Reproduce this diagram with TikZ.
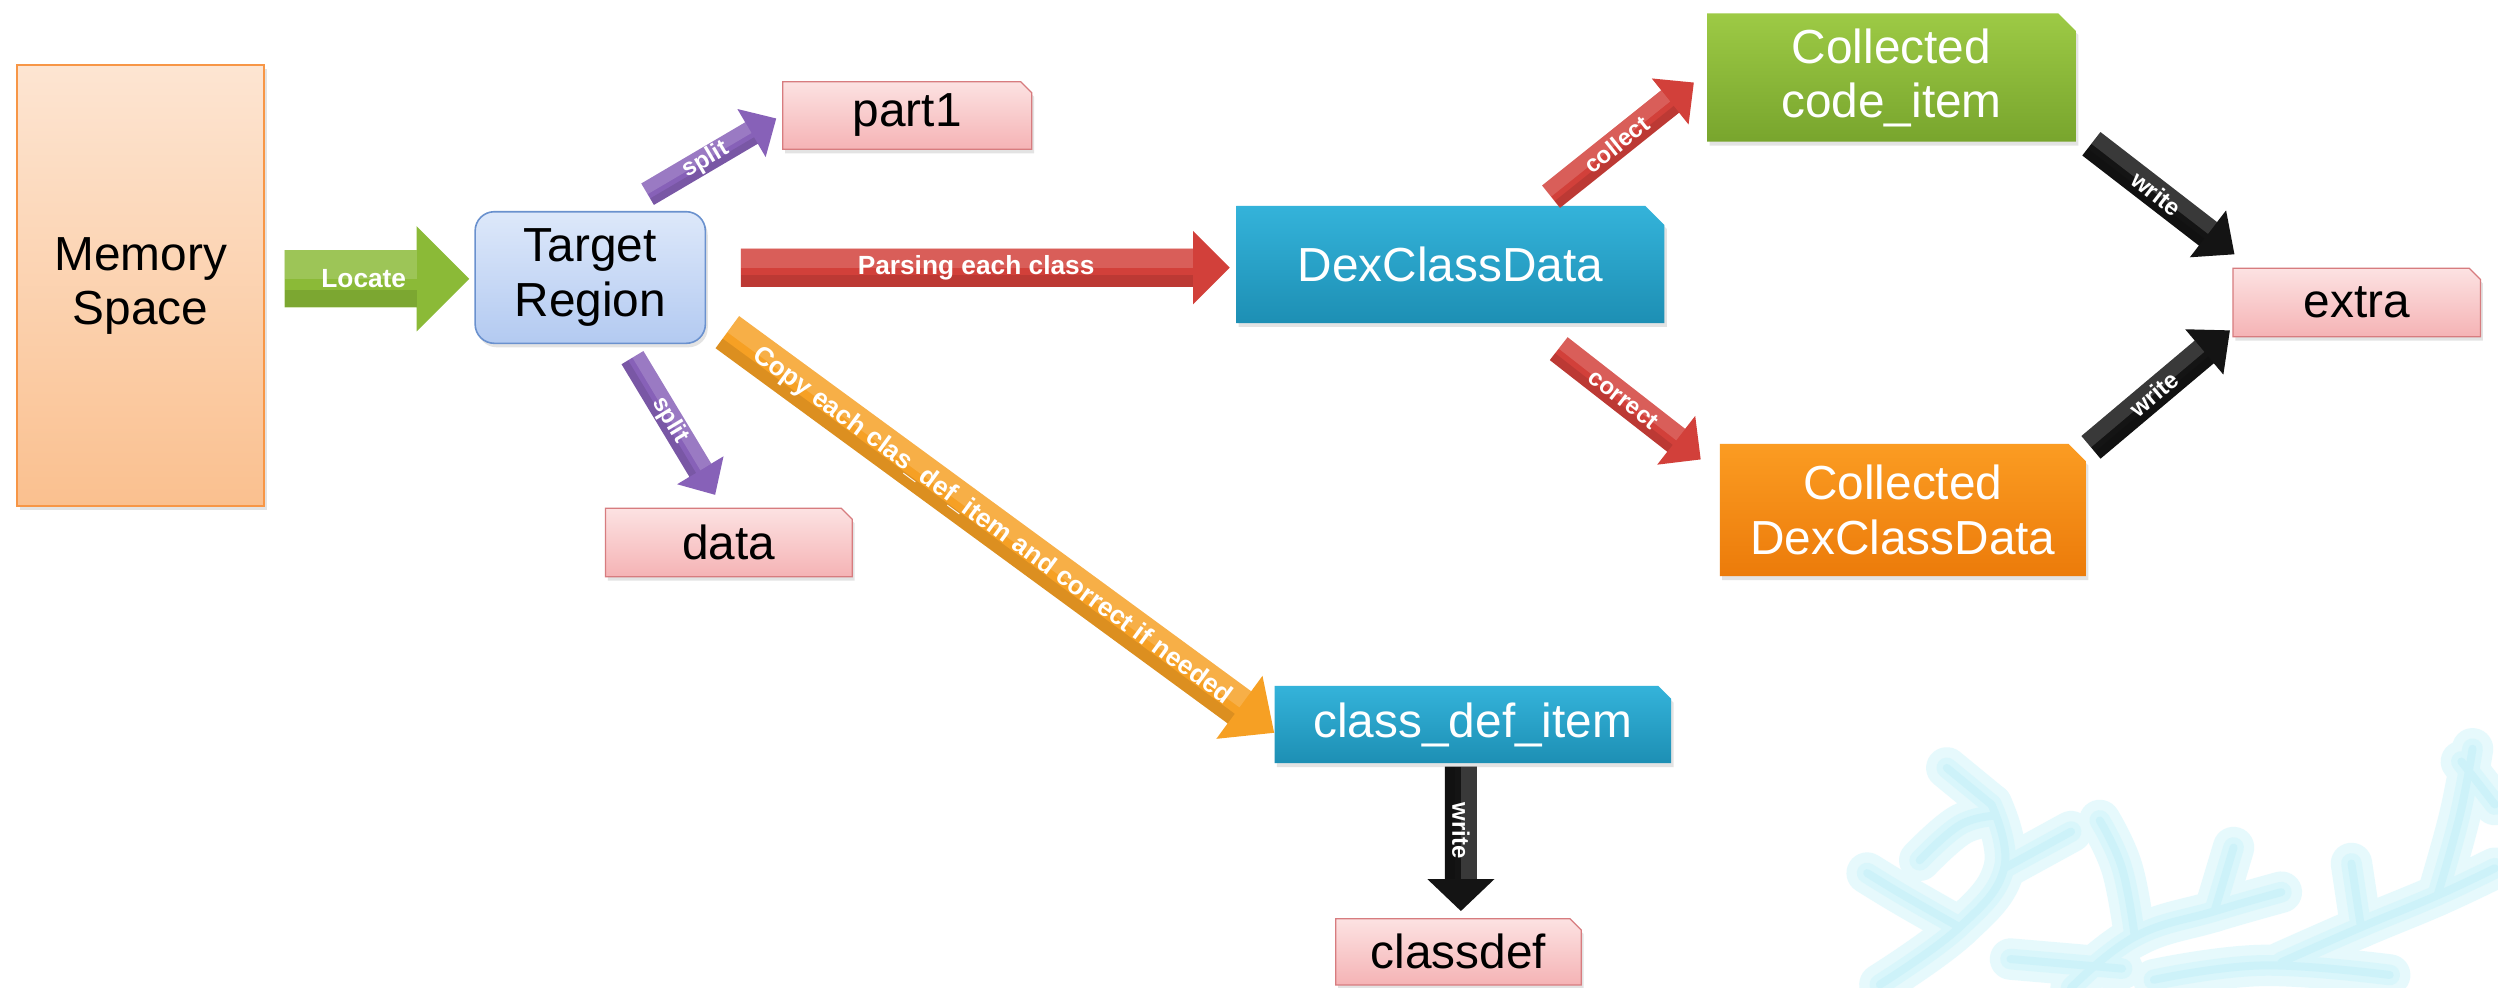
\documentclass[tikz,border=0pt]{standalone}
\usepackage{fontspec}
\setmainfont{Liberation Sans}
\usetikzlibrary{calc,shadows}

\definecolor{pinkT}{HTML}{FCE2E2}
\definecolor{pinkB}{HTML}{F5B3B5}
\definecolor{pinkE}{HTML}{D77C7F}
\definecolor{memT}{HTML}{FDE5D2}
\definecolor{memB}{HTML}{FAC08F}
\definecolor{memE}{HTML}{F79646}
\definecolor{tgtT}{HTML}{DDE8FA}
\definecolor{tgtB}{HTML}{B3CAF1}
\definecolor{tgtE}{HTML}{6A91CE}
\definecolor{tealT}{HTML}{34B3DA}
\definecolor{tealB}{HTML}{1D8FB4}
\definecolor{grnT}{HTML}{9DCA45}
\definecolor{grnB}{HTML}{78A52D}
\definecolor{orgT}{HTML}{FB9C22}
\definecolor{orgB}{HTML}{EC7B0A}
\definecolor{arGreen}{HTML}{8BBA37}
\definecolor{arRed}{HTML}{D2403A}
\definecolor{arPurple}{HTML}{8761B8}
\definecolor{arBlack}{HTML}{141414}
\definecolor{arOrange}{HTML}{F6A024}
\definecolor{wmarkA}{HTML}{D2F5FB}
\definecolor{wmarkB}{HTML}{B2E9F6}

\newcommand\boxfont{\fontsize{30}{34}\selectfont}
\newcommand\bigtag{\bfseries\fontsize{16.5}{18}\selectfont}
\newcommand\smalltag{\bfseries\fontsize{15}{17}\selectfont}

\tikzset{
  boxshadow/.style={drop shadow={opacity=0.22, shadow xshift=1.5pt, shadow yshift=-2.5pt}},
  boxtext/.style={inner sep=0pt, align=center, font=\boxfont},
  pinkfill/.style={top color=pinkT, bottom color=pinkB, draw=pinkE, line width=0.8pt, boxshadow},
  tealfill/.style={top color=tealT, bottom color=tealB, boxshadow},
  greenfill/.style={top color=grnT, bottom color=grnB, boxshadow},
  orangefill/.style={top color=orgT, bottom color=orgB, boxshadow},
  memfill/.style={top color=memT, bottom color=memB, draw=memE, line width=1.2pt, boxshadow},
  tgtfill/.style={top color=tgtT, bottom color=tgtB, draw=tgtE, line width=1pt, rounded corners=12pt, boxshadow},
  darktext/.style={boxtext, text=black},
  lighttext/.style={boxtext, text=white},
  taglabel/.style={text=white, inner sep=0pt, font=\smalltag},
  coralhalo/.style={wmarkA, line width=26pt, line cap=round, line join=round},
  coralwide/.style={wmarkA!80!wmarkB, line width=13pt, line cap=round, line join=round},
  coralthin/.style={wmarkB, line width=5pt, line cap=round, line join=round},
}

% box with a snipped upper-right corner: name, centre, width, height, snip, fill style, text style, text
\newcommand\snipbox[8]{%
  \begin{scope}[shift={(#2)}]
    \path[#6] ({-(#3)/2},{-(#4)/2}) -- ({(#3)/2-(#5)},{-(#4)/2}) -- ({(#3)/2},{-(#4)/2+(#5)})
      -- ({(#3)/2},{(#4)/2}) -- ({-(#3)/2},{(#4)/2}) -- cycle;
  \end{scope}
  \node[#7, minimum width=#3pt, minimum height=#4pt] (#1) at (#2) {#8};}

% block arrow: [label options] tail, tip, colour, shaft half width, head half width, head length, label
\newcommand\blockarrow[8][]{%
  \path let \p1=(#2), \p2=(#3) in \pgfextra{%
    \pgfmathsetmacro\baang{atan2((\y2)-(\y1),(\x2)-(\x1))}%
    \pgfmathsetmacro\balen{veclen((\x2)-(\x1),(\y2)-(\y1))}%
    \global\let\baAng\baang
    \global\let\baLen\balen};
  \begin{scope}[shift={(#2)}, rotate=\baAng, x=1pt, y=1pt]
    \pgfmathsetmacro\baBase{\baLen-(#7)}%
    \pgfmathsetmacro\baMid{\baLen/2-(#7)/4}%
    \fill[#4] (0,-#5) -- (\baBase,-#5) -- (\baBase,-#6) -- (\baLen,0) -- (\baBase,#6)
      -- (\baBase,#5) -- (0,#5) -- cycle;
    \fill[white, opacity=0.16] (0,0) -- (\baBase,0) -- (\baBase,#5) -- (0,#5) -- cycle;
    \fill[black, opacity=0.10] (0,-#5) -- (\baBase,-#5) -- (\baBase,{-0.4*(#5)}) -- (0,{-0.4*(#5)}) -- cycle;
    \node[taglabel, transform shape, #1] at (\baMid,0) {#8};
  \end{scope}}

% coral branches of the corner pattern, one list per call
\newcommand\coralbranches[1]{%
  \foreach \br in {
    {(1180,618) (1230,582) (1258,545) (1250,505)},
    {(1230,582) (1195,562) (1172,548)},
    {(1258,545) (1300,522)},
    {(1250,505) (1222,482)},
    {(1300,620) (1340,588) (1390,572) (1432,560)},
    {(1340,588) (1332,545) (1318,515)},
    {(1390,572) (1402,532)},
    {(1432,604) (1482,582) (1530,562) (1566,545)},
    {(1482,582) (1476,542)},
    {(1530,562) (1544,512) (1552,470)},
    {(1566,505) (1545,478)},
    {(1352,615) (1420,606) (1500,612)},
    {(1262,602) (1332,608)},
    {(1205,540) (1230,518) (1252,512)}}
    {\draw[#1] plot[smooth, tension=0.7] coordinates {\br};}}

\begin{document}
\begin{tikzpicture}[x=1pt, y=-1pt]
\useasboundingbox (0,0) rectangle (1568,620);
\fill[white] (0,0) rectangle (1568,620);

% faint coral pattern in the lower right corner
\begin{scope}[transparency group, opacity=0.55]
  \coralbranches{coralhalo}
\end{scope}
\begin{scope}[transparency group, opacity=0.45]
  \coralbranches{coralwide}
\end{scope}
\begin{scope}[transparency group, opacity=0.3]
  \coralbranches{coralthin}
\end{scope}

% boxes
\node[memfill, darktext, minimum width=155pt, minimum height=277pt] (mem) at (88.3,179.4) {Memory\\Space};
\node[tgtfill, darktext, minimum width=144.5pt, minimum height=82.6pt] (tgt) at (370.5,174.2) {Target\\Region};
\snipbox{part1}{569.5,72.5}{156.3}{42.4}{7}{pinkfill}{darktext}{part1}
\snipbox{data}{457.5,340.5}{155}{43}{7}{pinkfill}{darktext}{data}
\snipbox{dex}{910.4,166}{268.7}{73.5}{12}{tealfill}{lighttext}{DexClassData}
\snipbox{codeitem}{1187.3,48.7}{231.5}{80.5}{11}{greenfill}{lighttext}{Collected\\code\_item}
\snipbox{dcdata}{1194.4,320.1}{229.8}{83}{11}{orangefill}{lighttext}{Collected\\DexClassData}
\snipbox{extra}{1479.3,189.9}{155.3}{42.9}{7}{pinkfill}{darktext}{extra}
\snipbox{cdi}{924.5,454.8}{249}{48.4}{8}{tealfill}{lighttext}{class\_def\_item}
\snipbox{cd}{915.5,597.5}{154}{41.5}{7}{pinkfill}{darktext}{classdef}

% block arrows
\blockarrow[font=\bigtag]{$(mem.east)+(12.2,-4.4)$}{$(tgt.west)+(-3.2,0.8)$}{arGreen}{18}{33}{33}{Locate}
\blockarrow{$(tgt.north)+(36,-10.5)$}{$(part1.west)+(-3.8,1.8)$}{arPurple}{7.8}{17.5}{18}{split}
\blockarrow{$(tgt.south)+(26.5,8.5)$}{$(data.north)+(-8.5,-8)$}{arPurple}{8}{17}{18}{split}
\blockarrow[font=\bigtag]{$(tgt.east)+(21.8,-6.2)$}{$(dex.west)+(-4,2)$}{arRed}{12}{23}{23}{Parsing each class}
\blockarrow[font=\bigtag]{$(tgt.south east)+(13.3,-7.5)$}{$(cdi.west)+(0,5.2)$}{arOrange}{12.5}{24.5}{27}{Copy each clas\_def\_item and correct if needed}
\blockarrow{$(dex.north)+(63.2,-5.6)$}{$(codeitem.west)+(-8,3)$}{arRed}{9}{18.5}{19}{collect}
\blockarrow{$(dex.south)+(68,15.9)$}{$(dcdata.north west)+(-11.5,10.2)$}{arRed}{9.1}{19.4}{19.5}{correct}
\blockarrow{$(codeitem.south east)+(9.5,1.1)$}{$(extra.north west)+(1.4,-8.4)$}{arBlack}{9.3}{18.6}{21}{write}
\blockarrow{$(dcdata.north)+(118.1,2.4)$}{$(extra.south west)+(-1.6,-4.3)$}{arBlack}{9.3}{18.6}{21}{write}
\blockarrow{$(cdi.south)+(-7.5,2)$}{$(cd.north)+(1.5,-4.7)$}{arBlack}{10}{21}{20}{write}
\end{tikzpicture}
\end{document}
